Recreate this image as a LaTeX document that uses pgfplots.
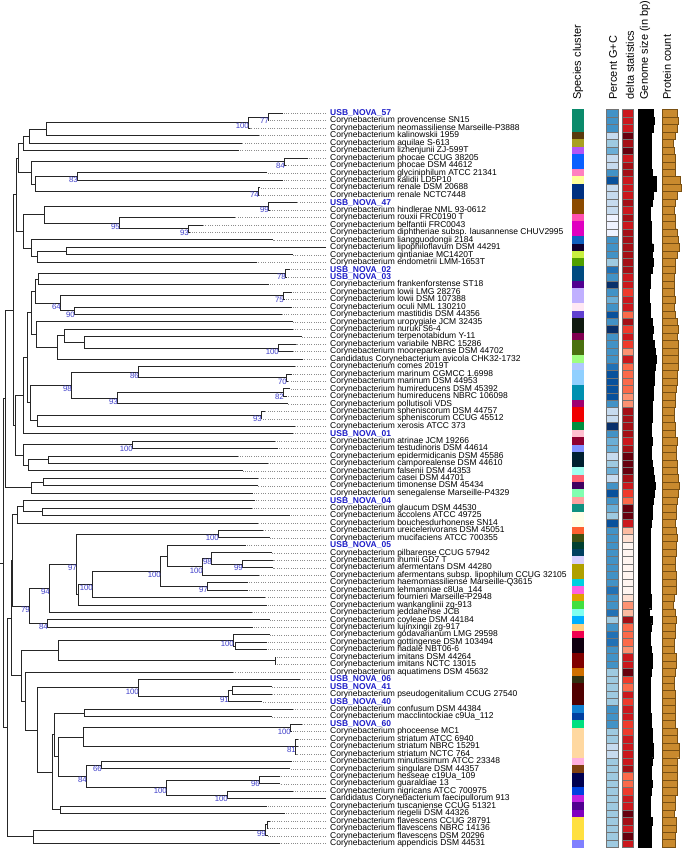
\documentclass[border=0pt]{standalone}
\usepackage{pgfplots}
\usepackage{pgfplotstable}
\pgfplotsset{compat=1.18}
\usepackage{fontspec}
\setmainfont{Liberation Sans}
\definecolor{nova}{HTML}{1E1EC8}
\definecolor{boot}{HTML}{3C3CC8}
\definecolor{prot}{HTML}{C98A2E}
\definecolor{protd}{HTML}{7A5012}
% G+C blues
\definecolor{gc0}{HTML}{EFF3FF}\definecolor{gc1}{HTML}{C6DBEF}\definecolor{gc2}{HTML}{9ECAE1}\definecolor{gc3}{HTML}{6BAED6}
\definecolor{gc4}{HTML}{4292C6}\definecolor{gc5}{HTML}{2171B5}\definecolor{gc6}{HTML}{08519C}\definecolor{gc7}{HTML}{08306B}
% delta reds
\definecolor{dl0}{HTML}{FFF5F0}\definecolor{dl1}{HTML}{FEE0D2}\definecolor{dl2}{HTML}{FCBBA1}\definecolor{dl3}{HTML}{FC9272}
\definecolor{dl4}{HTML}{FB6A4A}\definecolor{dl5}{HTML}{EF3B2C}\definecolor{dl6}{HTML}{CB181D}\definecolor{dl7}{HTML}{A50F15}\definecolor{dl8}{HTML}{67000D}
% species cluster colours
\definecolor{sa}{HTML}{0B8A6B}\definecolor{sb}{HTML}{5A3A0E}\definecolor{sc}{HTML}{A8A020}\definecolor{sd}{HTML}{B455F5}
\definecolor{se}{HTML}{0A60FF}\definecolor{sf}{HTML}{FF80C0}\definecolor{sg}{HTML}{FFFF99}\definecolor{sh}{HTML}{003080}
\definecolor{si}{HTML}{8B4A00}\definecolor{sj}{HTML}{FF50B0}\definecolor{sk}{HTML}{E000C0}\definecolor{sl}{HTML}{1060C0}
\definecolor{sm}{HTML}{100030}\definecolor{sn}{HTML}{C8F040}\definecolor{so}{HTML}{50A000}\definecolor{sp}{HTML}{004A80}
\definecolor{sq}{HTML}{500090}\definecolor{sr}{HTML}{C0B0FF}\definecolor{ss}{HTML}{FFE8F4}\definecolor{st}{HTML}{6040D0}
\definecolor{su}{HTML}{101A10}\definecolor{sv}{HTML}{800050}\definecolor{sw}{HTML}{4A7010}\definecolor{sx}{HTML}{A0FF80}
\definecolor{sy}{HTML}{B0C8FF}\definecolor{sz}{HTML}{90D0FF}\definecolor{ta}{HTML}{0090B0}\definecolor{tb}{HTML}{A00070}
\definecolor{tc}{HTML}{F00000}\definecolor{td}{HTML}{009040}\definecolor{te}{HTML}{FFC0D0}\definecolor{tf}{HTML}{900030}
\definecolor{tg}{HTML}{8090FF}\definecolor{th}{HTML}{002030}\definecolor{ti}{HTML}{A0FFF0}\definecolor{tj}{HTML}{FF6070}
\definecolor{tk}{HTML}{400060}\definecolor{tl}{HTML}{80FFB0}\definecolor{tm}{HTML}{FFA0A0}\definecolor{tn}{HTML}{109080}
\definecolor{to}{HTML}{FFFFE8}\definecolor{tp}{HTML}{FF6030}\definecolor{tq}{HTML}{405010}\definecolor{tr}{HTML}{004030}
\definecolor{ts}{HTML}{004060}\definecolor{tt}{HTML}{D8D0FF}\definecolor{tu}{HTML}{B0A000}\definecolor{tv}{HTML}{00D0E0}
\definecolor{tw}{HTML}{FF60E0}\definecolor{tx}{HTML}{E0A000}\definecolor{ty}{HTML}{40E040}\definecolor{tz}{HTML}{80FFF0}
\definecolor{ua}{HTML}{00B0FF}\definecolor{ub}{HTML}{FFD080}\definecolor{uc}{HTML}{F00050}\definecolor{ud}{HTML}{100010}
\definecolor{ue}{HTML}{800000}\definecolor{uf}{HTML}{D07000}\definecolor{ug}{HTML}{303010}\definecolor{uh}{HTML}{500000}
\definecolor{ui}{HTML}{1080D0}\definecolor{uj}{HTML}{0040A0}\definecolor{uk}{HTML}{00E080}\definecolor{ul}{HTML}{FFD8A0}
\definecolor{um}{HTML}{FFB0E0}\definecolor{un}{HTML}{804010}\definecolor{uo}{HTML}{000050}\definecolor{up}{HTML}{0040E0}
\definecolor{uq}{HTML}{C020E0}\definecolor{ur}{HTML}{500090}\definecolor{us}{HTML}{8000C0}\definecolor{ut}{HTML}{FFE040}
\definecolor{uu}{HTML}{8080FF}
\pgfplotstableread{
i sp gc dl gs pc tip
1 sa e g 15 15 283
2 sa e g 16 16 269
3 sa e g 15 15 250
4 sb b i 13 13 259
5 sc c h 13 11 242
6 sd d i 13 12 239
7 se b g 13 13 308
8 se b h 13 13 286
9 sf e h 14 13 267
10 sg g g 18 18 283
11 sh b g 18 19 260
12 sh b g 15 15 259
13 si b h 14 13 297
14 si b g 12 12 270
15 sj a h 12 13 235
16 sk a g 13 13 203
17 sk a h 13 15 190
18 sl e h 13 16 273
19 sm e h 15 17 326
20 sn e h 14 15 293
21 so c h 15 13 257
22 sp f h 14 13 290
23 sp e g 12 12 287
24 sq h g 12 12 269
25 sr e f 11 12 292
26 sr d g 11 13 285
27 ss e g 12 12 292
28 st g e 12 13 282
29 su e h 14 15 293
30 su h f 15 16 293
31 sv e g 14 15 302
32 sw e f 16 16 296
33 sw e d 17 16 293
34 sx e g 18 16 303
35 sy f e 17 16 295
36 sz g e 16 15 292
37 sz g e 16 15 288
38 ta g e 15 14 290
39 ta g d 15 13 287
40 tb e d 14 13 288
41 tc b h 14 12 265
42 tc b h 14 12 262
43 td h h 13 13 295
44 te e h 13 13 293
45 tf d g 14 15 275
46 tg d h 13 14 278
47 th b i 13 14 238
48 th c i 14 15 268
49 ti d i 15 15 243
50 tj b h 16 16 258
51 tk e g 17 17 258
52 tl g f 16 16 253
53 tm e e 15 15 255
54 tn d i 14 14 252
55 to c i 14 14 290
56 to g g 13 13 258
57 tp e c 12 14 263
58 tq e b 12 15 270
59 tr e a 12 14 246
60 ts e a 12 14 272
61 tt e a 12 13 273
62 tu e a 12 13 273
63 tu e a 12 14 259
64 tv e a 12 14 248
65 tw f a 12 14 248
66 tx e b 13 12 265
67 ty e d 13 11 267
68 tz f c 11 13 252
69 ua c h 14 14 270
70 ub e e 13 13 253
71 uc f e 12 13 270
72 ud f e 12 12 267
73 ud e d 13 12 267
74 ue e g 14 14 276
75 ue e g 14 14 276
76 uf c i 13 13 233
77 ug c f 12 12 300
78 uh c e 12 12 272
79 uh c g 12 13 272
80 uh c f 12 13 262
81 ui e g 12 13 293
82 uj e g 13 13 272
83 uk e f 13 13 302
84 ul c f 14 15 292
85 ul c g 14 15 298
86 ul b g 15 17 298
87 ul b g 15 17 296
88 um c g 14 15 292
89 un c h 13 15 290
90 uo c e 13 15 280
91 uo c e 14 15 280
92 up c f 13 15 293
93 uq c g 12 13 326
94 ur c g 12 13 267
95 us c i 12 12 285
96 ut c h 14 14 270
97 ut c g 13 14 268
98 ut c i 13 13 268
99 uu c g 13 13 280
}\data
\newcommand{\Co}{Corynebacterium}
\tikzset{
 lab/.style={anchor=west, inner sep=0pt, font=\fontsize{8.5}{9}\selectfont, text=black},
 nov/.style={anchor=west, inner sep=0pt, font=\fontsize{8.5}{9}\selectfont\bfseries, text=nova},
 bs/.style={anchor=north east, inner sep=0pt, font=\fontsize{7.8}{8}\selectfont, text=boot},
 ttl/.style={anchor=west, rotate=90, inner sep=0pt, font=\fontsize{11}{12}\selectfont},
}
\newcommand{\lf}[2]{\node[lab] at (axis cs:330,#1) {#2};}
\newcommand{\lc}[2]{\node[lab] at (axis cs:330,#1) {\Co{} #2};}
\newcommand{\lnv}[2]{\node[nov] at (axis cs:330,#1) {#2};}
\newcommand{\bt}[3]{\node[bs] at (axis cs:#1+1,#2+0.1) {#3};}
\begin{document}
\begin{tikzpicture}
\begin{axis}[at={(0pt,0pt)}, anchor=south west, x=1pt, y=7.45pt, y dir=reverse,
 xmin=0, xmax=685, ymin=-14.21, ymax=99.89, hide axis, clip=false, unbounded coords=jump]
% tree
\addplot[black!85, line width=0.9pt, mark=none] coordinates {
(283,1) (268,1) (268,2) (269,2) (nan,nan)
(268,1.5) (248,1.5) (248,3) (250,3) (nan,nan)
(248,2.25) (46,2.25) (46,4) (259,4) (nan,nan)
(46,3.13) (29,3.13) (29,5) (242,5) (nan,nan)
(29,4.06) (23,4.06) (23,6) (239,6) (nan,nan)
(308,7) (284,7) (284,8) (286,8) (nan,nan)
(267,9) (77,9) (77,10) (283,10) (nan,nan)
(260,11) (258,11) (258,12) (259,12) (nan,nan)
(77,9.5) (35,9.5) (35,11.5) (258,11.5) (nan,nan)
(284,7.5) (31,7.5) (31,10.5) (35,10.5) (nan,nan)
(23,5.03) (18,5.03) (18,9) (31,9) (nan,nan)
(297,13) (268,13) (268,14) (270,14) (nan,nan)
(203,16) (188,16) (188,17) (190,17) (nan,nan)
(235,15) (119,15) (119,16.5) (188,16.5) (nan,nan)
(268,13.5) (44,13.5) (44,15.75) (119,15.75) (nan,nan)
(326,19) (66,19) (66,20) (293,20) (nan,nan)
(66,19.5) (37,19.5) (37,21) (257,21) (nan,nan)
(273,18) (31,18) (31,20.25) (37,20.25) (nan,nan)
(44,14.63) (23,14.63) (23,19.13) (31,19.13) (nan,nan)
(18,7.02) (16,7.02) (16,16.88) (23,16.88) (nan,nan)
(290,22) (285,22) (285,23) (287,23) (nan,nan)
(285,22.5) (38,22.5) (38,24) (269,24) (nan,nan)
(292,25) (283,25) (283,26) (285,26) (nan,nan)
(292,27) (74,27) (74,28) (282,28) (nan,nan)
(283,25.5) (60,25.5) (60,27.5) (74,27.5) (nan,nan)
(38,23.25) (35,23.25) (35,26.5) (60,26.5) (nan,nan)
(296,32) (278,32) (278,33) (293,33) (nan,nan)
(302,31) (84,31) (84,32.5) (278,32.5) (nan,nan)
(293,30) (64,30) (64,31.75) (84,31.75) (nan,nan)
(64,30.88) (57,30.88) (57,34) (303,34) (nan,nan)
(293,29) (36,29) (36,32.44) (57,32.44) (nan,nan)
(35,24.88) (31,24.88) (31,30.72) (36,30.72) (nan,nan)
(292,36) (286,36) (286,37) (288,37) (nan,nan)
(295,35) (138,35) (138,36.5) (286,36.5) (nan,nan)
(290,38) (283,38) (283,39) (287,39) (nan,nan)
(283,38.5) (117,38.5) (117,40) (288,40) (nan,nan)
(138,35.75) (71,35.75) (71,39.25) (117,39.25) (nan,nan)
(265,41) (261,41) (261,42) (262,42) (nan,nan)
(261,41.5) (37,41.5) (37,43) (295,43) (nan,nan)
(71,37.5) (30,37.5) (30,42.25) (37,42.25) (nan,nan)
(31,27.8) (27,27.8) (27,39.88) (30,39.88) (nan,nan)
(27,33.84) (23,33.84) (23,44) (293,44) (nan,nan)
(275,45) (132,45) (132,46) (278,46) (nan,nan)
(238,47) (48,47) (48,48) (268,48) (nan,nan)
(48,47.5) (28,47.5) (28,49) (243,49) (nan,nan)
(132,45.5) (23,45.5) (23,48.25) (28,48.25) (nan,nan)
(23,38.92) (15,38.92) (15,46.88) (23,46.88) (nan,nan)
(16,11.95) (13,11.95) (13,42.9) (15,42.9) (nan,nan)
(258,50) (43,50) (43,51) (258,51) (nan,nan)
(43,50.5) (31,50.5) (31,52) (253,52) (nan,nan)
(13,27.43) (5,27.43) (5,51.25) (31,51.25) (nan,nan)
(252,54) (42,54) (42,55) (290,55) (nan,nan)
(255,53) (23,53) (23,54.5) (42,54.5) (nan,nan)
(23,53.75) (17,53.75) (17,56) (258,56) (nan,nan)
(263,57) (218,57) (218,58) (270,58) (nan,nan)
(273,61) (242,61) (242,62) (273,62) (nan,nan)
(272,60) (211,60) (211,61.5) (242,61.5) (nan,nan)
(211,60.75) (202,60.75) (202,63) (259,63) (nan,nan)
(246,59) (167,59) (167,61.88) (202,61.88) (nan,nan)
(248,64) (207,64) (207,65) (248,65) (nan,nan)
(167,60.44) (160,60.44) (160,64.5) (207,64.5) (nan,nan)
(160,62.47) (92,62.47) (92,66) (265,66) (nan,nan)
(92,64.24) (78,64.24) (78,67) (267,67) (nan,nan)
(218,57.5) (76,57.5) (76,65.62) (78,65.62) (nan,nan)
(76,61.56) (49,61.56) (49,68) (252,68) (nan,nan)
(270,69) (47,69) (47,70) (253,70) (nan,nan)
(49,64.78) (29,64.78) (29,69.5) (47,69.5) (nan,nan)
(17,54.88) (12,54.88) (12,67.14) (29,67.14) (nan,nan)
(267,72) (235,72) (235,73) (267,73) (nan,nan)
(270,71) (233,71) (233,72.5) (235,72.5) (nan,nan)
(276,74) (275,74) (275,75) (276,75) (nan,nan)
(233,71.75) (58,71.75) (58,74.5) (275,74.5) (nan,nan)
(272,78) (232,78) (232,79) (272,79) (nan,nan)
(232,78.5) (228,78.5) (228,80) (262,80) (nan,nan)
(300,77) (138,77) (138,79.25) (228,79.25) (nan,nan)
(293,81) (84,81) (84,82) (272,82) (nan,nan)
(302,83) (290,83) (290,84) (292,84) (nan,nan)
(298,85) (295,85) (295,87) (296,87) (nan,nan)
(295,86) (298,86) (nan,nan)
(290,83.5) (83,83.5) (83,86) (295,86) (nan,nan)
(292,88) (101,88) (101,89) (290,89) (nan,nan)
(280,90) (259,90) (259,91) (280,91) (nan,nan)
(293,92) (227,92) (227,93) (326,93) (nan,nan)
(259,90.5) (166,90.5) (166,92.5) (227,92.5) (nan,nan)
(101,88.5) (86,88.5) (86,91.5) (166,91.5) (nan,nan)
(83,84.75) (58,84.75) (58,90) (86,90) (nan,nan)
(84,81.5) (54,81.5) (54,87.38) (58,87.38) (nan,nan)
(267,94) (60,94) (60,95) (285,95) (nan,nan)
(54,84.44) (52,84.44) (52,94.5) (60,94.5) (nan,nan)
(138,78.13) (37,78.13) (37,89.47) (52,89.47) (nan,nan)
(233,76) (25,76) (25,83.8) (37,83.8) (nan,nan)
(58,73.13) (21,73.13) (21,79.9) (25,79.9) (nan,nan)
(12,61.01) (11,61.01) (11,76.52) (21,76.52) (nan,nan)
(270,96) (267,96) (267,97) (268,97) (nan,nan)
(267,96.5) (265,96.5) (265,98) (268,98) (nan,nan)
(265,97.25) (33,97.25) (33,99) (280,99) (nan,nan)
(11,68.77) (7,68.77) (7,98.13) (33,98.13) (nan,nan)
(5,39.34) (3,39.34) (3,83.45) (7,83.45) (nan,nan)
(0,61.4) (3,61.4)
};
% dotted leaf extensions
\addplot[draw=none, mark=none, error bars/.cd, x dir=minus, x explicit, error mark=none,
 error bar style={draw=black!45, line width=0.45pt, dash pattern=on 1pt off 1.3pt}]
 table[x expr=326, y=i, x error expr=326-\thisrow{tip}] {\data};
% species cluster column
\addplot[scatter, only marks, mark=square*, mark size=3.725pt, point meta=explicit symbolic,
 mark options={xscale=1.477, line width=0.2pt},
 scatter/classes={
 sa={fill=sa,draw=sa},sb={fill=sb,draw=sb},sc={fill=sc,draw=sc},sd={fill=sd,draw=sd},se={fill=se,draw=se},
 sf={fill=sf,draw=sf},sg={fill=sg,draw=sg},sh={fill=sh,draw=sh},si={fill=si,draw=si},sj={fill=sj,draw=sj},
 sk={fill=sk,draw=sk},sl={fill=sl,draw=sl},sm={fill=sm,draw=sm},sn={fill=sn,draw=sn},so={fill=so,draw=so},
 sp={fill=sp,draw=sp},sq={fill=sq,draw=sq},sr={fill=sr,draw=sr},ss={fill=ss,draw=ss},st={fill=st,draw=st},
 su={fill=su,draw=su},sv={fill=sv,draw=sv},sw={fill=sw,draw=sw},sx={fill=sx,draw=sx},sy={fill=sy,draw=sy},
 sz={fill=sz,draw=sz},ta={fill=ta,draw=ta},tb={fill=tb,draw=tb},tc={fill=tc,draw=tc},td={fill=td,draw=td},
 te={fill=te,draw=te},tf={fill=tf,draw=tf},tg={fill=tg,draw=tg},th={fill=th,draw=th},ti={fill=ti,draw=ti},
 tj={fill=tj,draw=tj},tk={fill=tk,draw=tk},tl={fill=tl,draw=tl},tm={fill=tm,draw=tm},tn={fill=tn,draw=tn},
 to={fill=to,draw=to},tp={fill=tp,draw=tp},tq={fill=tq,draw=tq},tr={fill=tr,draw=tr},ts={fill=ts,draw=ts},
 tt={fill=tt,draw=tt},tu={fill=tu,draw=tu},tv={fill=tv,draw=tv},tw={fill=tw,draw=tw},tx={fill=tx,draw=tx},
 ty={fill=ty,draw=ty},tz={fill=tz,draw=tz},ua={fill=ua,draw=ua},ub={fill=ub,draw=ub},uc={fill=uc,draw=uc},
 ud={fill=ud,draw=ud},ue={fill=ue,draw=ue},uf={fill=uf,draw=uf},ug={fill=ug,draw=ug},uh={fill=uh,draw=uh},
 ui={fill=ui,draw=ui},uj={fill=uj,draw=uj},uk={fill=uk,draw=uk},ul={fill=ul,draw=ul},um={fill=um,draw=um},
 un={fill=un,draw=un},uo={fill=uo,draw=uo},up={fill=up,draw=up},uq={fill=uq,draw=uq},ur={fill=ur,draw=ur},
 us={fill=us,draw=us},ut={fill=ut,draw=ut},uu={fill=uu,draw=uu}}]
 table[x expr=577.5, y=i, meta=sp] {\data};
% percent G+C column
\addplot[scatter, only marks, mark=square*, mark size=3.725pt, point meta=explicit symbolic,
 mark options={xscale=1.61, line width=0.3pt},
 scatter/classes={a={fill=gc0,draw=black!55},b={fill=gc1,draw=black!55},c={fill=gc2,draw=black!55},
 d={fill=gc3,draw=black!55},e={fill=gc4,draw=black!55},f={fill=gc5,draw=black!55},
 g={fill=gc6,draw=black!55},h={fill=gc7,draw=black!55}}]
 table[x expr=612, y=i, meta=gc] {\data};
% delta statistics column
\addplot[scatter, only marks, mark=square*, mark size=3.725pt, point meta=explicit symbolic,
 mark options={xscale=1.477, line width=0.3pt},
 scatter/classes={a={fill=dl0,draw=black!55},b={fill=dl1,draw=black!55},c={fill=dl2,draw=black!55},
 d={fill=dl3,draw=black!55},e={fill=dl4,draw=black!55},f={fill=dl5,draw=black!55},
 g={fill=dl6,draw=black!55},h={fill=dl7,draw=black!55},i={fill=dl8,draw=black!55}}]
 table[x expr=627.5, y=i, meta=dl] {\data};
% column titles
\node[ttl] at (axis cs:578,-0.8) {Species cluster};
\node[ttl] at (axis cs:613,-0.8) {Percent G+C};
\node[ttl] at (axis cs:630,-0.8) {delta statistics};
\node[ttl] at (axis cs:645,-0.8) {Genome size (in bp)};
\node[ttl] at (axis cs:667,-0.8) {Protein count};
% bootstrap values
\bt{268}{1.5}{77} \bt{248}{2.25}{100} \bt{284}{7.5}{84} \bt{77}{9.5}{83} \bt{258}{11.5}{74}
\bt{268}{13.5}{99} \bt{119}{15.75}{95} \bt{188}{16.5}{93} \bt{285}{22.5}{78} \bt{283}{25.5}{75}
\bt{60}{26.5}{64} \bt{74}{27.5}{90} \bt{278}{32.5}{100} \bt{138}{35.75}{86} \bt{286}{36.5}{70}
\bt{71}{37.5}{98} \bt{283}{38.5}{82} \bt{117}{39.25}{93} \bt{261}{41.5}{93} \bt{132}{45.5}{100}
\bt{218}{57.5}{100} \bt{76}{61.56}{97} \bt{211}{60.75}{98} \bt{242}{61.5}{99} \bt{202}{61.88}{100}
\bt{160}{62.47}{100} \bt{207}{64.5}{97} \bt{92}{64.24}{100} \bt{49}{64.78}{94} \bt{29}{67.14}{79}
\bt{47}{69.5}{84} \bt{233}{71.75}{100} \bt{138}{78.13}{100} \bt{228}{79.25}{91} \bt{290}{83.5}{100}
\bt{295}{86}{81} \bt{101}{88.5}{66} \bt{86}{90}{84} \bt{259}{90.5}{96} \bt{166}{91.5}{100}
\bt{227}{92.5}{100} \bt{265}{97.25}{99}
% leaf labels
\lnv{1}{USB\_NOVA\_57}
\lc{2}{provencense SN15}
\lc{3}{neomassiliense Marseille-P3888}
\lc{4}{kalinowskii 1959}
\lc{5}{aquilae S-613}
\lc{6}{lizhenjunii ZJ-599T}
\lc{7}{phocae CCUG 38205}
\lc{8}{phocae DSM 44612}
\lc{9}{glyciniphilum ATCC 21341}
\lc{10}{kalidii LD5P10}
\lc{11}{renale DSM 20688}
\lc{12}{renale NCTC7448}
\lnv{13}{USB\_NOVA\_47}
\lc{14}{hindlerae NML 93-0612}
\lc{15}{rouxii FRC0190 T}
\lc{16}{belfantii FRC0043}
\lc{17}{diphtheriae subsp. lausannense CHUV2995}
\lc{18}{liangguodongii 2184}
\lc{19}{lipophiloflavum DSM 44291}
\lc{20}{qintianiae MC1420T}
\lc{21}{endometrii LMM-1653T}
\lnv{22}{USB\_NOVA\_02}
\lnv{23}{USB\_NOVA\_03}
\lc{24}{frankenforstense ST18}
\lc{25}{lowii LMG 28276}
\lc{26}{lowii DSM 107388}
\lc{27}{oculi NML 130210}
\lc{28}{mastitidis DSM 44356}
\lc{29}{uropygiale JCM 32435}
\lc{30}{nuruki S6-4}
\lc{31}{terpenotabidum Y-11}
\lc{32}{variabile NBRC 15286}
\lc{33}{mooreparkense DSM 44702}
\lf{34}{Candidatus Corynebacterium avicola CHK32-1732}
\lc{35}{comes 2019T}
\lc{36}{marinum CGMCC 1.6998}
\lc{37}{marinum DSM 44953}
\lc{38}{humireducens DSM 45392}
\lc{39}{humireducens NBRC 106098}
\lc{40}{pollutisoli VDS}
\lc{41}{spheniscorum DSM 44757}
\lc{42}{spheniscorum CCUG 45512}
\lc{43}{xerosis ATCC 373}
\lnv{44}{USB\_NOVA\_01}
\lc{45}{atrinae JCM 19266}
\lc{46}{testudinoris DSM 44614}
\lc{47}{epidermidicanis DSM 45586}
\lc{48}{camporealense DSM 44610}
\lc{49}{falsenii DSM 44353}
\lc{50}{casei DSM 44701}
\lc{51}{timonense DSM 45434}
\lc{52}{senegalense Marseille-P4329}
\lnv{53}{USB\_NOVA\_04}
\lc{54}{glaucum DSM 44530}
\lc{55}{accolens ATCC 49725}
\lc{56}{bouchesdurhonense SN14}
\lc{57}{ureicelerivorans DSM 45051}
\lc{58}{mucifaciens ATCC 700355}
\lnv{59}{USB\_NOVA\_05}
\lc{60}{pilbarense CCUG 57942}
\lc{61}{ihumii GD7 T}
\lc{62}{afermentans DSM 44280}
\lc{63}{afermentans subsp. lipophilum CCUG 32105}
\lc{64}{haemomassiliense Marseille-Q3615}
\lc{65}{lehmanniae c8Ua\_144}
\lc{66}{fournieri Marseille-P2948}
\lc{67}{wankanglinii zg-913}
\lc{68}{jeddahense JCB}
\lc{69}{coyleae DSM 44184}
\lc{70}{lujinxingii zg-917}
\lc{71}{godavarianum LMG 29598}
\lc{72}{gottingense DSM 103494}
\lc{73}{hadale NBT06-6}
\lc{74}{imitans DSM 44264}
\lc{75}{imitans NCTC 13015}
\lc{76}{aquatimens DSM 45632}
\lnv{77}{USB\_NOVA\_06}
\lnv{78}{USB\_NOVA\_41}
\lc{79}{pseudogenitalium CCUG 27540}
\lnv{80}{USB\_NOVA\_40}
\lc{81}{confusum DSM 44384}
\lc{82}{macclintockiae c9Ua\_112}
\lnv{83}{USB\_NOVA\_60}
\lc{84}{phoceense MC1}
\lc{85}{striatum ATCC 6940}
\lc{86}{striatum NBRC 15291}
\lc{87}{striatum NCTC 764}
\lc{88}{minutissimum ATCC 23348}
\lc{89}{singulare DSM 44357}
\lc{90}{hesseae c19Ua\_109}
\lc{91}{guaraldiae 13}
\lc{92}{nigricans ATCC 700975}
\lf{93}{Candidatus Corynebacterium faecipullorum 913}
\lc{94}{tuscaniense CCUG 51321}
\lc{95}{riegelii DSM 44326}
\lc{96}{flavescens CCUG 28791}
\lc{97}{flavescens NBRC 14136}
\lc{98}{flavescens DSM 20296}
\lc{99}{appendicis DSM 44531}
\end{axis}
% genome size bars
\begin{axis}[at={(638pt,0pt)}, anchor=south west, x=1pt, y=7.45pt, y dir=reverse,
 xmin=0, xmax=22, ymin=-14.21, ymax=99.89, hide axis, clip=false, enlargelimits=false]
\addplot[xbar, bar width=1, fill=black, draw=black, line width=0.2pt] table[x=gs, y=i] {\data};
\end{axis}
% protein count bars
\begin{axis}[at={(662pt,0pt)}, anchor=south west, x=1pt, y=7.45pt, y dir=reverse,
 xmin=0, xmax=22, ymin=-14.21, ymax=99.89, hide axis, clip=false, enlargelimits=false]
\addplot[xbar, bar width=1, fill=prot, draw=protd, line width=0.35pt] table[x=pc, y=i] {\data};
\end{axis}
\pgfresetboundingbox
\useasboundingbox (0,0) rectangle (685pt,850pt);
\end{tikzpicture}
\end{document}
